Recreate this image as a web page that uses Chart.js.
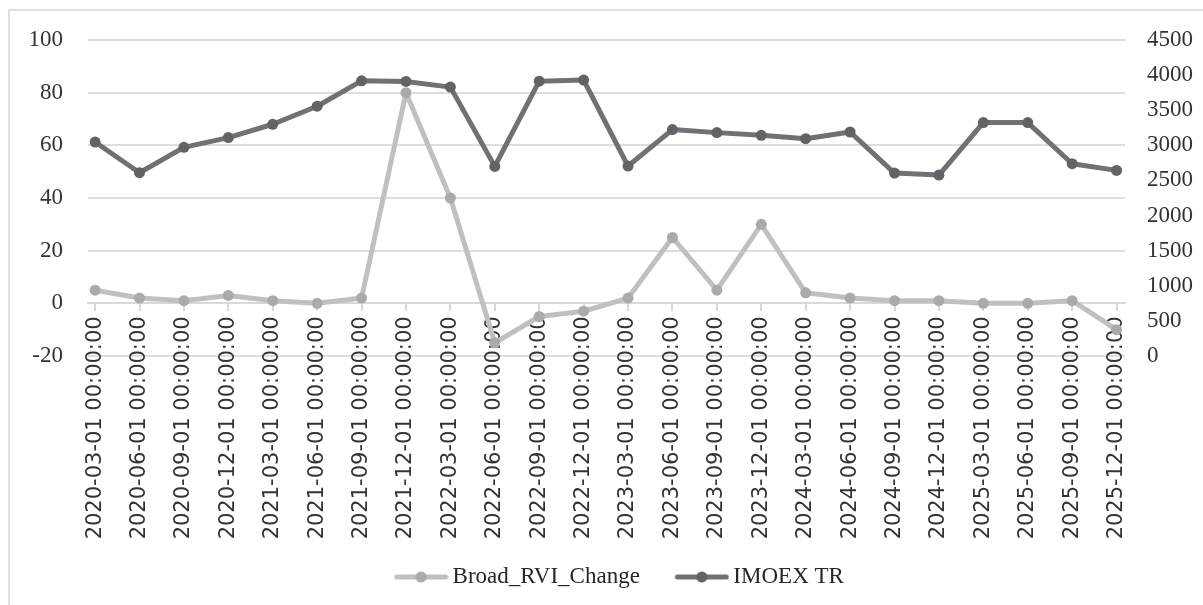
<!DOCTYPE html>
<html>
<head>
<meta charset="utf-8">
<script src="https://cdn.jsdelivr.net/npm/chart.js@4.4.1/dist/chart.umd.min.js"></script>
<style>
html,body{margin:0;padding:0;background:#ffffff;overflow:hidden;}
#wrap{position:relative;width:1203px;height:605px;}
#frame{position:absolute;left:8px;top:9px;width:1220px;height:620px;border-top:2px solid #e0e0e0;border-left:2px solid #e0e0e0;}
#c{position:absolute;left:0;top:0;}
</style>
</head>
<body>
<div id="wrap"><div id="frame"></div><canvas id="c" width="1203" height="605"></canvas></div>
<script>
const categories = [
  "2020-03-01 00:00:00","2020-06-01 00:00:00","2020-09-01 00:00:00","2020-12-01 00:00:00",
  "2021-03-01 00:00:00","2021-06-01 00:00:00","2021-09-01 00:00:00","2021-12-01 00:00:00",
  "2022-03-01 00:00:00","2022-06-01 00:00:00","2022-09-01 00:00:00","2022-12-01 00:00:00",
  "2023-03-01 00:00:00","2023-06-01 00:00:00","2023-09-01 00:00:00","2023-12-01 00:00:00",
  "2024-03-01 00:00:00","2024-06-01 00:00:00","2024-09-01 00:00:00","2024-12-01 00:00:00",
  "2025-03-01 00:00:00","2025-06-01 00:00:00","2025-09-01 00:00:00","2025-12-01 00:00:00"
];
const broadRviChange = [5, 2, 1, 3, 1, 0, 2, 80, 40, -15, -5, -3, 2, 25, 5, 30, 4, 2, 1, 1, 0, 0, 1, -10];
const imoexTR = [3047, 2610, 2971, 3110, 3300, 3557, 3919, 3910, 3829, 2700, 3914, 3929,
                 2705, 3224, 3181, 3143, 3095, 3190, 2605, 2576, 3324, 3324, 2738, 2643];
const seriesNames = ["Broad_RVI_Change", "IMOEX TR"];
const leftAxis = {min: -20, max: 100, step: 20};
const rightAxis = {min: 0, max: 4500, step: 500};

const lineColors = ["#bfc0c2", "#707174"];
const markerColors = ["#a9aaad", "#626367"];

// legend icon: line with a round marker, drawn at the right part of a wider transparent canvas
const LEG_BOX = 72;
const LEG_IMG_W = LEG_BOX + 15;
function legendIcon(lineColor, markerColor) {
  const cv = document.createElement('canvas');
  cv.width = LEG_IMG_W; cv.height = 14;
  const g = cv.getContext('2d');
  const x0 = LEG_IMG_W - 55, x1 = LEG_IMG_W;
  g.strokeStyle = lineColor; g.lineWidth = 5; g.lineCap = 'round';
  g.beginPath(); g.moveTo(x0 + 3, 7); g.lineTo(x1 - 3, 7); g.stroke();
  g.fillStyle = markerColor;
  g.beginPath(); g.arc((x0 + x1) / 2, 7, 5.5, 0, Math.PI * 2); g.fill();
  return cv;
}
const legendIcons = [legendIcon(lineColors[0], markerColors[0]), legendIcon(lineColors[1], markerColors[1])];

const LEG_PAD = 10;
const LEG_FONT = 23;
const BOTTOM_PAD = 6.5;
const SPACER_H = 199.5;

const serif = "'Liberation Serif', 'Times New Roman', serif";
const defaultLabels = Chart.defaults.plugins.legend.labels.generateLabels;

new Chart(document.getElementById('c'), {
  type: 'line',
  data: {
    datasets: [
      {
        label: seriesNames[0],
        data: broadRviChange.map((v, i) => ({x: i, y: v})),
        yAxisID: 'y',
        borderColor: lineColors[0],
        backgroundColor: markerColors[0],
        borderWidth: 5,
        pointRadius: 5.5,
        pointBackgroundColor: markerColors[0],
        pointBorderColor: markerColors[0],
        pointBorderWidth: 0,
        borderJoinStyle: 'round',
        borderCapStyle: 'round',
        tension: 0,
        clip: false
      },
      {
        label: seriesNames[1],
        data: imoexTR.map((v, i) => ({x: i, y: v})),
        yAxisID: 'y2',
        borderColor: lineColors[1],
        backgroundColor: markerColors[1],
        borderWidth: 5,
        pointRadius: 5.5,
        pointBackgroundColor: markerColors[1],
        pointBorderColor: markerColors[1],
        pointBorderWidth: 0,
        borderJoinStyle: 'round',
        borderCapStyle: 'round',
        tension: 0,
        clip: false
      }
    ]
  },
  options: {
    responsive: false,
    animation: false,
    devicePixelRatio: 1,
    layout: {padding: {top: 40, left: 0, right: 0, bottom: BOTTOM_PAD}},
    plugins: {
      tooltip: {enabled: false},
      title: {display: false},
      legend: {
        display: true,
        position: 'bottom',
        fullSize: false,
        labels: {
          usePointStyle: true,
          pointStyleWidth: LEG_BOX,
          padding: LEG_PAD,
          color: '#262626',
          font: {family: serif, size: LEG_FONT},
          generateLabels(chart) {
            const items = defaultLabels(chart);
            items.forEach((it, i) => { it.pointStyle = legendIcons[i]; });
            return items;
          }
        }
      }
    },
    scales: {
      x: {
        type: 'linear',
        position: {y: 0},
        min: -0.16,
        max: 23.19,
        afterBuildTicks(scale) { scale.ticks = categories.map((_, i) => ({value: i})); },
        ticks: {
          autoSkip: false,
          minRotation: 90,
          maxRotation: 90,
          padding: 6,
          color: '#333333',
          font: {family: "'DejaVu Sans', sans-serif", size: 21},
          callback: (v) => categories[v]
        },
        grid: {drawOnChartArea: false, drawTicks: true, tickLength: 7, color: '#d9d9d9', lineWidth: 2},
        border: {display: true, color: '#d9d9d9', width: 2}
      },
      xs: {
        type: 'linear',
        position: 'bottom',
        min: 0, max: 1,
        ticks: {display: false},
        grid: {display: false},
        border: {display: false},
        afterFit(scale) { scale.height = SPACER_H; }
      },
      y: {
        position: 'left',
        min: leftAxis.min, max: leftAxis.max,
        ticks: {stepSize: leftAxis.step, padding: 25, color: '#333333', font: {family: serif, size: 23}},
        grid: {drawTicks: false, color: '#dedede', lineWidth: 2},
        border: {display: false},
        afterFit(scale) { scale.width = 88; }
      },
      y2: {
        position: 'right',
        min: rightAxis.min, max: rightAxis.max,
        ticks: {stepSize: rightAxis.step, padding: 22, color: '#333333', font: {family: serif, size: 23},
                callback: (v) => String(v)},
        grid: {drawOnChartArea: false, drawTicks: false},
        border: {display: false},
        afterFit(scale) { scale.width = 78; }
      }
    }
  }
});
</script>
</body>
</html>
